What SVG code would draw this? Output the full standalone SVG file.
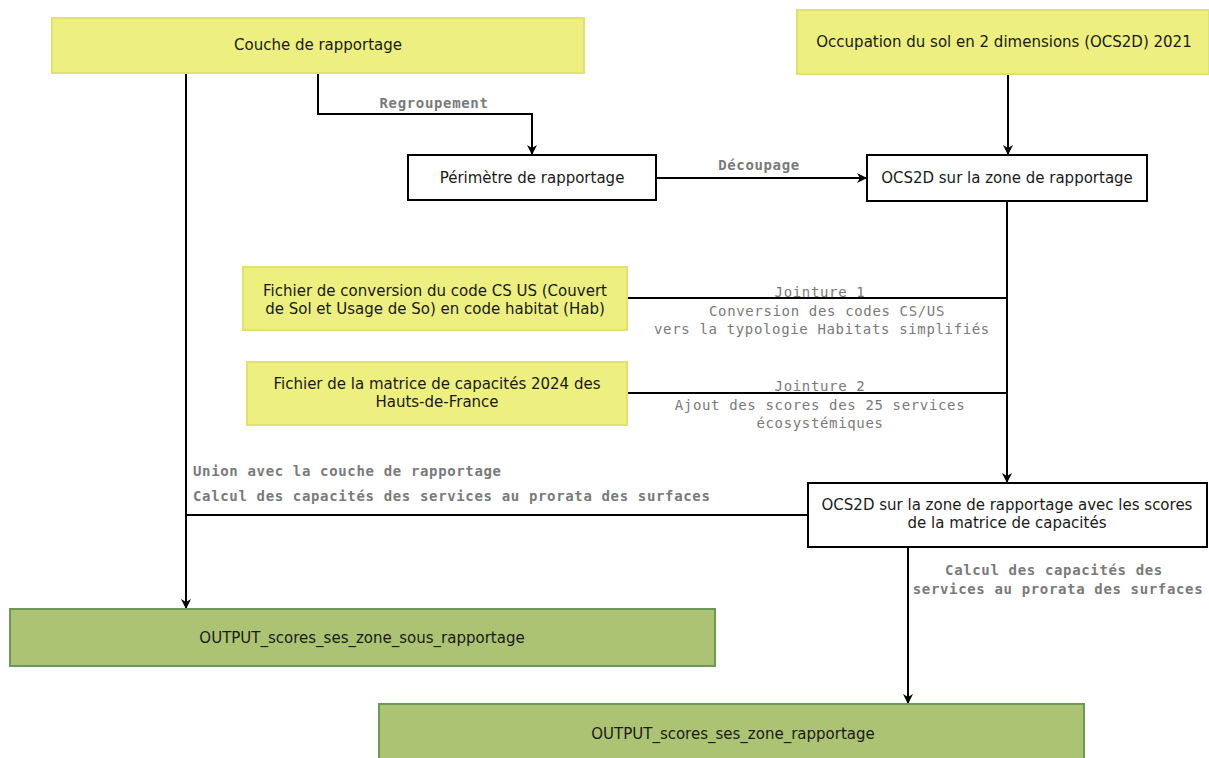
<svg xmlns="http://www.w3.org/2000/svg" width="1209" height="758" viewBox="0 0 1209 758">
  <style>
    .input { fill: #edf080; stroke: #dfe270; stroke-width: 2; }
    .step { fill: #ffffff; stroke: #000000; stroke-width: 2; }
    .output { fill: #adc374; stroke: #6b9a58; stroke-width: 2; }
    .label { font-family: "DejaVu Sans", "Liberation Sans", sans-serif; font-size: 15px; fill: #1a1a1a; text-anchor: middle; }
    .edge { fill: none; stroke: #000000; stroke-width: 2; }
    .note { font-family: "DejaVu Sans Mono", "Liberation Mono", monospace; font-size: 14px; letter-spacing: 0.65px; fill: #7a7a7a; }
    .bold { font-weight: bold; }
    .mid { text-anchor: middle; }
  </style>
  <defs>
    <marker id="arrow" viewBox="0 0 10 10" refX="9" refY="5" markerWidth="10" markerHeight="10" markerUnits="userSpaceOnUse" orient="auto">
      <path d="M0,0 L10,5 L0,10 L3,5 Z" fill="#000000"/>
    </marker>
  </defs>

  <rect width="1209" height="758" fill="#ffffff"/>

  <!-- connectors -->
  <g id="connectors">
    <path class="edge" d="M186,73 V608" marker-end="url(#arrow)"/>
    <path class="edge" d="M318,73 V114 H532 V154" marker-end="url(#arrow)"/>
    <path class="edge" d="M656,178 H866" marker-end="url(#arrow)"/>
    <path class="edge" d="M1008,74 V154" marker-end="url(#arrow)"/>
    <path class="edge" d="M1007,201 V482" marker-end="url(#arrow)"/>
    <path class="edge" d="M627,298 H1007"/>
    <path class="edge" d="M627,393 H1007"/>
    <path class="edge" d="M808,515 H186"/>
    <path class="edge" d="M908,547 V703" marker-end="url(#arrow)"/>

    <text class="note bold mid" x="434" y="108">Regroupement</text>
    <text class="note bold mid" x="759" y="170">Découpage</text>
    <text class="note mid" x="820" y="297">Jointure 1</text>
    <text class="note mid" x="827" y="316">Conversion des codes CS/US</text>
    <text class="note mid" x="822" y="334">vers la typologie Habitats simplifiés</text>
    <text class="note mid" x="820" y="391">Jointure 2</text>
    <text class="note mid" x="820" y="410">Ajout des scores des 25 services</text>
    <text class="note mid" x="820" y="428">écosystémiques</text>
    <text class="note bold" x="193" y="476">Union avec la couche de rapportage</text>
    <text class="note bold" x="193" y="501">Calcul des capacités des services au prorata des surfaces</text>
    <text class="note bold mid" x="1054" y="575">Calcul des capacités des</text>
    <text class="note bold mid" x="1058" y="594">services au prorata des surfaces</text>
  </g>

  <!-- nodes -->
  <g id="couche-rapportage">
    <rect class="input" x="52" y="18" width="532" height="55"/>
    <text class="label" x="318" y="50">Couche de rapportage</text>
  </g>
  <g id="ocs2d-2021">
    <rect class="input" x="797" y="10" width="412" height="64"/>
    <text class="label" x="1004" y="47">Occupation du sol en 2 dimensions (OCS2D) 2021</text>
  </g>
  <g id="perimetre">
    <rect class="step" x="408" y="155" width="248" height="45"/>
    <text class="label" x="532" y="183">Périmètre de rapportage</text>
  </g>
  <g id="ocs2d-zone">
    <rect class="step" x="867" y="155" width="280" height="46"/>
    <text class="label" x="1007" y="183">OCS2D sur la zone de rapportage</text>
  </g>
  <g id="fichier-conversion">
    <rect class="input" x="243" y="267" width="384" height="63"/>
    <text class="label" x="435" y="296">Fichier de conversion du code CS US (Couvert</text>
    <text class="label" x="435" y="314">de Sol et Usage de So) en code habitat (Hab)</text>
  </g>
  <g id="fichier-matrice">
    <rect class="input" x="247" y="362" width="380" height="63"/>
    <text class="label" x="437" y="389">Fichier de la matrice de capacités 2024 des</text>
    <text class="label" x="437" y="407">Hauts-de-France</text>
  </g>
  <g id="ocs2d-scores">
    <rect class="step" x="808" y="483" width="399" height="64"/>
    <text class="label" x="1007" y="510">OCS2D sur la zone de rapportage avec les scores</text>
    <text class="label" x="1007" y="528">de la matrice de capacités</text>
  </g>
  <g id="output-sous-rapportage">
    <rect class="output" x="10" y="609" width="705" height="57"/>
    <text class="label" x="362" y="643">OUTPUT_scores_ses_zone_sous_rapportage</text>
  </g>
  <g id="output-rapportage">
    <rect class="output" x="379" y="704" width="705" height="64"/>
    <text class="label" x="733" y="739">OUTPUT_scores_ses_zone_rapportage</text>
  </g>
</svg>
